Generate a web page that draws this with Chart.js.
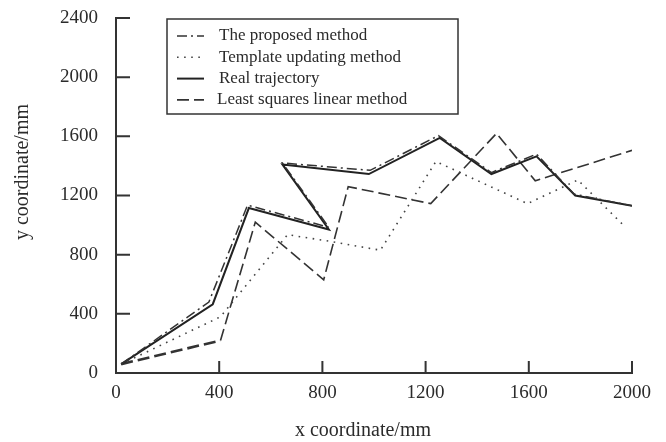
<!DOCTYPE html>
<html>
<head>
<meta charset="utf-8">
<script src="https://cdn.jsdelivr.net/npm/chart.js@4.4.1/dist/chart.umd.min.js"></script>
<style>
  html, body { margin: 0; padding: 0; background: #fff; }
  #wrap { width: 666px; height: 442px; }
</style>
</head>
<body>
<div id="wrap"><canvas id="trajectory-chart" width="666" height="442"></canvas></div>
<script>
// series (x / y in mm)
const proposedX = [20, 360, 510, 825, 645, 985, 1250, 1455, 1630, 1775, 2000];
const proposedY = [60, 480, 1135, 985, 1420, 1370, 1605, 1355, 1480, 1210, 1130];

const templateX = [20, 405, 665, 830, 1025, 1240, 1595, 1790, 1975];
const templateY = [60, 380, 935, 890, 830, 1430, 1145, 1305, 985];

const realX = [20, 375, 515, 825, 645, 980, 1255, 1455, 1630, 1780, 2000];
const realY = [60, 465, 1115, 970, 1410, 1345, 1590, 1345, 1465, 1200, 1130];

const leastX = [20, 405, 540, 805, 900, 1220, 1475, 1625, 2000];
const leastY = [60, 220, 1020, 630, 1260, 1145, 1620, 1300, 1505];

const xTicks = [0, 400, 800, 1200, 1600, 2000];
const yTicks = [0, 400, 800, 1200, 1600, 2000, 2400];

const seriesNames = ['The proposed method', 'Template updating method', 'Real trajectory', 'Least squares linear method'];
const xTitle = 'x coordinate/mm';
const yTitle = 'y coordinate/mm';

const FONT = "'Liberation Serif', 'Times New Roman', serif";
const INK = '#2b2b2b';

function pts(xs, ys) {
    return xs.map((x, i) => ({ x: x, y: ys[i] }));
}

// ticks drawn pointing into the plot, like the original figure
const inwardTicks = {
    id: 'inwardTicks',
    afterDraw(chart) {
        const c = chart.ctx;
        const area = chart.chartArea;
        const xs = chart.scales.x, ys = chart.scales.y;
        c.save();
        c.strokeStyle = '#333';
        c.lineWidth = 2;
        c.beginPath();
        xTicks.forEach(v => {
            if (v === 0) return;
            const px = xs.getPixelForValue(v);
            c.moveTo(px, area.bottom);
            c.lineTo(px, area.bottom - 12);
        });
        yTicks.forEach(v => {
            if (v === 0) return;
            const py = ys.getPixelForValue(v);
            c.moveTo(area.left, py);
            c.lineTo(area.left + 14, py);
        });
        c.stroke();
        c.restore();
    }
};

// axis titles sit a little off-centre in the original, so place them by hand
const axisTitles = {
    id: 'axisTitles',
    afterDraw(chart) {
        const c = chart.ctx;
        c.save();
        c.fillStyle = INK;
        c.font = '20px ' + FONT;
        c.textAlign = 'center';
        c.textBaseline = 'middle';
        c.fillText(xTitle, 363, 431);
        c.translate(23, 172);
        c.rotate(-Math.PI / 2);
        c.fillText(yTitle, 0, 0);
        c.restore();
    }
};

// boxed legend inside the plot, top left
const boxLegend = {
    id: 'boxLegend',
    afterDraw(chart) {
        const c = chart.ctx;
        const area = chart.chartArea;
        const bx = area.left + 51, by = area.top + 1;
        const bw = 291, bh = 95;
        c.save();
        c.fillStyle = '#fff';
        c.fillRect(bx, by, bw, bh);
        c.strokeStyle = '#333';
        c.lineWidth = 1.5;
        c.strokeRect(bx, by, bw, bh);
        c.font = '17px ' + FONT;
        c.textBaseline = 'middle';
        chart.data.datasets.forEach((ds, i) => {
            const y = by + 17 + i * 21.3;
            c.strokeStyle = ds.borderColor;
            c.lineWidth = ds.borderWidth;
            c.setLineDash(ds.borderDash || []);
            c.beginPath();
            c.moveTo(bx + 10, y);
            c.lineTo(bx + 37, y);
            c.stroke();
            c.setLineDash([]);
            c.fillStyle = INK;
            c.fillText(ds.label, bx + (i === 3 ? 50 : 52), y);
        });
        c.restore();
    }
};

const ctx = document.getElementById('trajectory-chart').getContext('2d');
new Chart(ctx, {
    type: 'scatter',
    data: {
        datasets: [
            {
                label: seriesNames[0],
                data: pts(proposedX, proposedY),
                borderColor: '#333',
                borderWidth: 1.5,
                borderDash: [10, 4, 2, 4]
            },
            {
                label: seriesNames[1],
                data: pts(templateX, templateY),
                borderColor: '#444',
                borderWidth: 1.6,
                borderDash: [1.6, 5.5]
            },
            {
                label: seriesNames[2],
                data: pts(realX, realY),
                borderColor: '#222',
                borderWidth: 2
            },
            {
                label: seriesNames[3],
                data: pts(leastX, leastY),
                borderColor: '#333',
                borderWidth: 1.6,
                borderDash: [12, 5],
                segment: {
                    borderWidth: c => c.p0DataIndex === 0 ? 2.6 : undefined
                }
            }
        ]
    },
    options: {
        responsive: false,
        animation: false,
        showLine: true,
        elements: {
            point: { radius: 0, hoverRadius: 0 },
            line: { tension: 0, fill: false, borderCapStyle: 'butt' }
        },
        layout: { padding: { left: 0, right: 34, top: 18, bottom: 0 } },
        plugins: {
            legend: { display: false },
            tooltip: { enabled: false }
        },
        scales: {
            x: {
                type: 'linear',
                min: 0,
                max: 2000,
                afterBuildTicks: s => { s.ticks = xTicks.map(v => ({ value: v })); },
                afterFit: s => { s.height = 69; },
                grid: { display: false, drawTicks: false },
                border: { display: true, color: '#333', width: 2 },
                ticks: {
                    color: INK, font: { family: FONT, size: 19 }, padding: 9, maxRotation: 0,
                    callback: v => String(v)
                }
            },
            y: {
                type: 'linear',
                min: 0,
                max: 2400,
                afterBuildTicks: s => { s.ticks = yTicks.map(v => ({ value: v })); },
                afterFit: s => { s.width = 116; s.paddingTop = 0; s.paddingBottom = 0; },
                grid: { display: false, drawTicks: false },
                border: { display: true, color: '#333', width: 2 },
                ticks: {
                    color: INK, font: { family: FONT, size: 19 }, padding: 18,
                    callback: v => String(v)
                }
            }
        }
    },
    plugins: [inwardTicks, axisTitles, boxLegend]
});
</script>
</body>
</html>
